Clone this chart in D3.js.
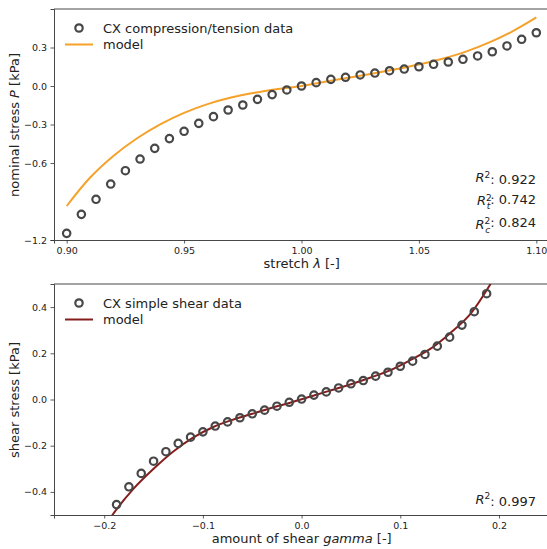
<!DOCTYPE html>
<html>
<head>
<meta charset="utf-8">
<script src="https://cdn.jsdelivr.net/npm/d3@7"></script>
<style>
  html, body { margin: 0; padding: 0; background: #fff; }
  svg { display: block; font-family: "DejaVu Sans", sans-serif; }
</style>
</head>
<body>
<svg id="chart" width="547" height="549"></svg>
<script>
// Compression/tension data: stretch λ and nominal stress P [kPa]
const stretch = d3.range(33).map(i => 0.9 + i * 0.00625);
const stressP = [-1.148, -1.0, -0.883, -0.764, -0.66, -0.569, -0.486, -0.41, -0.353,
  -0.291, -0.239, -0.187, -0.148, -0.104, -0.067, -0.031, 0.0, 0.026, 0.052, 0.068,
  0.086, 0.101, 0.119, 0.132, 0.150, 0.169, 0.187, 0.208, 0.234, 0.267, 0.312, 0.364, 0.415];

// Model prediction for compression/tension
const modelStretch = [0.90, 0.91, 0.92, 0.93, 0.94, 0.95, 0.96, 0.97, 0.98, 0.99, 1.00,
  1.01, 1.02, 1.03, 1.04, 1.05, 1.06, 1.07, 1.08, 1.09, 1.10];
const modelP = [-0.935, -0.713, -0.543, -0.407, -0.297, -0.209, -0.141, -0.090, -0.053, -0.024, 0.0,
  0.033, 0.064, 0.096, 0.130, 0.167, 0.212, 0.268, 0.340, 0.428, 0.535];

// Simple shear data: amount of shear γ and shear stress [kPa]
const gamma = d3.range(31).map(i => -0.1875 + i * 0.0125);
const shearStress = [-0.455, -0.378, -0.32, -0.267, -0.226, -0.19, -0.163, -0.14, -0.115,
  -0.097, -0.079, -0.062, -0.046, -0.029, -0.012, 0.002, 0.019, 0.033, 0.05, 0.068,
  0.082, 0.101, 0.118, 0.144, 0.166, 0.195, 0.231, 0.27, 0.322, 0.38, 0.458];

// Model prediction for simple shear
const modelGamma = [-0.196, -0.19, -0.17, -0.15, -0.13, -0.11, -0.09, -0.07, -0.05, -0.03, -0.01,
  0.01, 0.03, 0.05, 0.07, 0.09, 0.11, 0.13, 0.15, 0.17, 0.19, 0.195];
const modelShear = [-0.53, -0.49, -0.385, -0.30, -0.225, -0.165, -0.12, -0.088, -0.062, -0.036, -0.012,
  0.014, 0.04, 0.066, 0.095, 0.127, 0.17, 0.218, 0.285, 0.365, 0.49, 0.53];

// Tick values
const tickTopX = [0.90, 0.95, 1.00, 1.05, 1.10];
const tickTopY = [0.3, 0.0, -0.3, -0.6, -1.2];
const tickBotX = [-0.2, -0.1, 0.0, 0.1, 0.2];
const tickBotY = [0.4, 0.2, 0.0, -0.2, -0.4];

const svg = d3.select("#chart");
const axisColor = "#333";
const markerColor = "#474747";
const orange = "#f5a12a";
const darkRed = "#861d1d";
const minus = s => s.replace("-", "\u2212");

function panel(opts) {
  const g = svg.append("g");
  const x = d3.scaleLinear().domain(opts.xDomain).range([54, 549]);
  const y = d3.scaleLinear().domain(opts.yDomain).range([opts.bottom, opts.top]);

  const clipId = "clip" + opts.id;
  svg.append("clipPath").attr("id", clipId)
    .append("rect").attr("x", 54).attr("y", opts.top)
    .attr("width", 495).attr("height", opts.bottom - opts.top);

  // model line
  g.append("path")
    .datum(opts.modelX.map((v, i) => [v, opts.modelY[i]]))
    .attr("clip-path", `url(#${clipId})`)
    .attr("fill", "none")
    .attr("stroke", opts.lineColor)
    .attr("stroke-width", 2)
    .attr("d", d3.line().x(d => x(d[0])).y(d => y(d[1])).curve(d3.curveCatmullRom));

  // data markers
  g.append("g").selectAll("circle")
    .data(opts.dataX.map((v, i) => [v, opts.dataY[i]]))
    .join("circle")
    .attr("cx", d => x(d[0]))
    .attr("cy", d => y(d[1]))
    .attr("r", 3.7)
    .attr("fill", "none")
    .attr("stroke", markerColor)
    .attr("stroke-width", 2.2);

  // axes
  const xAxis = g.append("g")
    .attr("transform", `translate(0,${opts.bottom})`)
    .call(d3.axisBottom(x).tickValues(opts.xTicks).tickFormat(opts.xFmt)
      .tickSizeOuter(0).tickSize(3.5).tickPadding(3.5));
  const yAxis = g.append("g")
    .attr("transform", `translate(54,0)`)
    .call(d3.axisLeft(y).tickValues(opts.yTicks).tickFormat(d => minus(d3.format(".1f")(d)))
      .tickSizeOuter(0).tickSize(3.5).tickPadding(3.5));
  [xAxis, yAxis].forEach(a => {
    a.selectAll("text").attr("font-size", 9.5).attr("fill", "#222").attr("font-family", "DejaVu Sans");
    a.selectAll("line").attr("stroke", axisColor).attr("stroke-width", 0.8);
    a.select(".domain").attr("stroke", axisColor).attr("stroke-width", 0.9);
  });
  // top spine
  g.append("line").attr("x1", 54).attr("x2", 549).attr("y1", opts.top).attr("y2", opts.top)
    .attr("stroke", axisColor).attr("stroke-width", 0.9);

  // legend
  const lg = g.append("g");
  lg.append("circle").attr("cx", 79).attr("cy", opts.top + 19).attr("r", 3.7)
    .attr("fill", "none").attr("stroke", markerColor).attr("stroke-width", 2.2);
  lg.append("text").attr("x", 103).attr("y", opts.top + 19).attr("dy", "0.36em")
    .attr("font-size", 13).attr("fill", "#222").text(opts.dataLabel);
  lg.append("line").attr("x1", 65).attr("x2", 93).attr("y1", opts.top + 35.5).attr("y2", opts.top + 35.5)
    .attr("stroke", opts.lineColor).attr("stroke-width", 2);
  lg.append("text").attr("x", 103).attr("y", opts.top + 35.5).attr("dy", "0.36em")
    .attr("font-size", 13).attr("fill", "#222").text("model");

  // axis labels
  const xl = g.append("text").attr("x", 301.7).attr("y", opts.bottom + 28)
    .attr("text-anchor", "middle").attr("font-size", 13).attr("fill", "#222");
  opts.xLabel(xl);
  const yl = g.append("text").attr("transform", `translate(19,${opts.yLabelY}) rotate(-90)`)
    .attr("text-anchor", "middle").attr("font-size", 13).attr("fill", "#222");
  opts.yLabel(yl);

  // R² annotations
  opts.scores.forEach(s => {
    const t = g.append("text").attr("x", 536).attr("y", s.y).attr("dy", "0.36em")
      .attr("text-anchor", "end").attr("font-size", 13).attr("fill", "#222");
    t.append("tspan").attr("font-style", "italic").text("R");
    t.append("tspan").attr("font-size", 9).attr("dy", "-0.5em").text("2");
    if (s.sub) {
      t.append("tspan").attr("font-size", 9).attr("font-style", "italic")
        .attr("dx", "-0.55em").attr("dy", "0.95em").text(s.sub);
      t.append("tspan").attr("dy", "-0.45em").text(": " + s.value);
    } else {
      t.append("tspan").attr("dy", "0.5em").text(": " + s.value);
    }
  });
}

panel({
  id: "top",
  top: 9, bottom: 240,
  xDomain: [0.8946, 1.1054], yDomain: [-1.2, 0.6],
  xTicks: tickTopX, yTicks: tickTopY,
  xFmt: d3.format(".2f"),
  dataX: stretch, dataY: stressP,
  modelX: modelStretch, modelY: modelP,
  lineColor: orange,
  dataLabel: "CX compression/tension data",
  xLabel: t => {
    t.append("tspan").text("stretch ");
    t.append("tspan").attr("font-style", "italic").text("λ");
    t.append("tspan").text(" [-]");
  },
  yLabelY: 125,
  yLabel: t => {
    t.append("tspan").text("nominal stress ");
    t.append("tspan").attr("font-style", "italic").text("P");
    t.append("tspan").text(" [kPa]");
  },
  scores: [
    { y: 177.7, value: "0.922" },
    { y: 200.7, sub: "t", value: "0.742" },
    { y: 224, sub: "c", value: "0.824" }
  ]
});

panel({
  id: "bot",
  top: 284, bottom: 515,
  xDomain: [-0.2509, 0.2507], yDomain: [-0.5, 0.5],
  xTicks: tickBotX, yTicks: tickBotY,
  xFmt: d => minus(d3.format(".1f")(d)),
  dataX: gamma, dataY: shearStress,
  modelX: modelGamma, modelY: modelShear,
  lineColor: darkRed,
  dataLabel: "CX simple shear data",
  xLabel: t => {
    t.append("tspan").text("amount of shear ");
    t.append("tspan").attr("font-style", "italic").text("gamma");
    t.append("tspan").text(" [-]");
  },
  yLabelY: 400,
  yLabel: t => { t.text("shear stress [kPa]"); },
  scores: [
    { y: 499, value: "0.997" }
  ]
});
</script>
</body>
</html>
